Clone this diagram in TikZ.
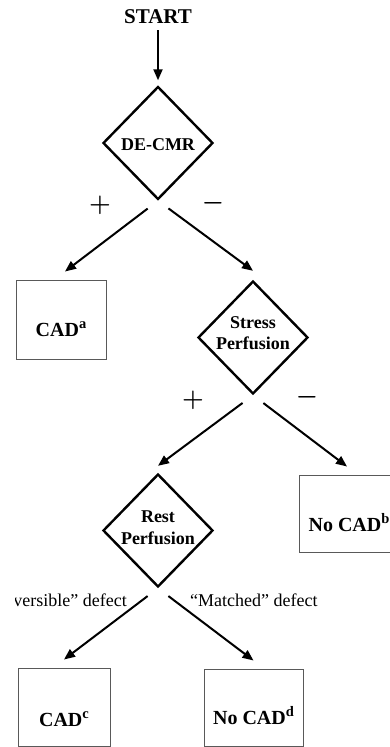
\documentclass[tikz,border=0pt]{standalone}
\usepackage{fontspec}
\setmainfont{Liberation Serif}
\usetikzlibrary{shapes.geometric, arrows.meta}

\newcommand{\cadsup}[1]{\raisebox{8pt}{\fontsize{14.5}{14.5}\selectfont #1}}

\begin{document}
\begin{tikzpicture}[x=1pt, y=-1pt,
    decision/.style={draw, diamond, line width=2.4pt, minimum width=110pt, minimum height=113pt, inner sep=0pt},
    result/.style={draw=black!65, line width=1pt, rectangle, inner sep=0pt},
    lbl/.style={font=\fontsize{18}{21.5}\selectfont\bfseries, align=center, inner sep=0pt},
    boxlbl/.style={font=\fontsize{20}{22}\selectfont\bfseries, inner sep=0pt, anchor=base},
    sign/.style={font=\fontsize{25}{25}\selectfont\boldmath, inner sep=0pt},
    arr/.style={line width=2pt, -{Triangle[length=11pt,width=9pt]}, shorten <=13pt},
    note/.style={font=\fontsize{18}{20}\selectfont, inner sep=0pt}]

    \useasboundingbox (0,0) rectangle (390,747);
    \clip (0,0) rectangle (390,747);

    % start and first test
    \node[boxlbl, font=\fontsize{21}{23}\selectfont\bfseries] (start) at (158,23) {START};
    \node[decision] (decmr) at (158,143) {};
    \node[lbl, anchor=base] (decmr-txt) at (158,150) {DE-CMR};
    \node[sign] (dplus) at (100,205) {$+$};
    \node[sign] (dminus) at (213,203) {$-$};

    \draw[arr, shorten <=7pt] (start.south) -- ([yshift=5pt]decmr.north);

    % second level
    \node[result, minimum width=90pt, minimum height=79pt] (cada) at (61,319.5) {};
    \node[boxlbl] (cada-txt) at (61,336) {CAD\cadsup{a}};

    \node[decision] (stress) at (253,337.5) {};
    \node[lbl] (stress-txt) at (253,333) {Stress\\Perfusion};
    \node[sign] (splus) at (193,400) {$+$};
    \node[sign] (sminus) at (307,397) {$-$};

    \draw[arr] (decmr.south) -- ([xshift=4pt,yshift=8pt]cada.north);
    \draw[arr] (decmr.south) -- ([yshift=9pt]stress.north);

    % third level
    \node[decision] (rest) at (158,530.5) {};
    \node[lbl] (rest-txt) at (158,527.5) {Rest\\Perfusion};

    \node[result, minimum width=96pt, minimum height=77pt] (nocadb) at (347,513.5) {};
    \node[boxlbl] (nocadb-txt) at (349,531) {No CAD\cadsup{b}};

    \draw[arr] (stress.south) -- ([yshift=7pt]rest.north);
    \draw[arr] (stress.south) -- ([yshift=8pt]nocadb.north);

    % last level
    \begin{scope}
        \clip (15,0) rectangle (390,747);
        \node[note, anchor=base east] (rev) at (127,606) {“Reversible” defect};
    \end{scope}
    \node[note, anchor=base west] (match) at (190,606) {“Matched” defect};

    \node[result, minimum width=92pt, minimum height=78pt] (cadc) at (64,707) {};
    \node[boxlbl] (cadc-txt) at (64,726) {CAD\cadsup{c}};

    \node[result, minimum width=99pt, minimum height=77pt] (nocadd) at (253.5,707.5) {};
    \node[boxlbl] (nocadd-txt) at (253.5,724) {No CAD\cadsup{d}};

    \draw[arr] (rest.south) -- ([yshift=8pt]cadc.north);
    \draw[arr] (rest.south) -- ([yshift=8pt]nocadd.north);
\end{tikzpicture}
\end{document}
